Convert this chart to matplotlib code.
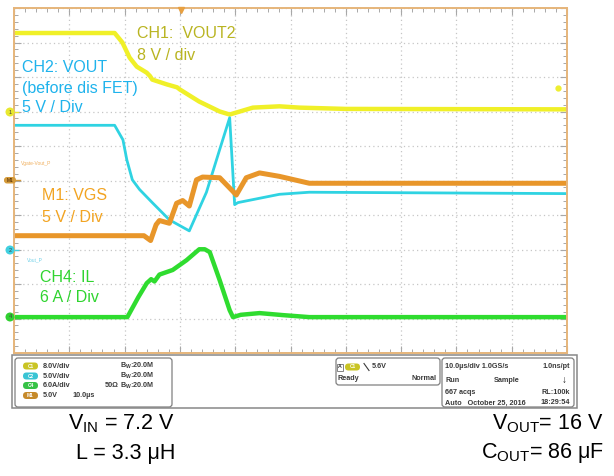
import matplotlib
matplotlib.use("Agg")
from matplotlib import pyplot as plt
from matplotlib.patches import FancyBboxPatch, Rectangle, Circle
from matplotlib.ticker import MultipleLocator

plt.rcParams["font.family"] = ["Liberation Sans", "DejaVu Sans"]
plt.rcParams["mathtext.fontset"] = "custom"
plt.rcParams["mathtext.rm"] = "Liberation Sans"

# time axis (us, relative to trigger), 10 us/div
t_min, t_max = -30, 70

# CH1 VOUT2 (V), 8 V/div
ch1_t = [-30, -11.8, -10.4, -9.1, -7.8, -6.0, -5.4, -5.0, -2.4, -0.5, 0.0, 3.5, 7.2, 9.0, 13.2, 18.0, 21.6, 30.0, 70.0]
ch1_v = [18.2, 18.2, 16.0, 12.5, 10.4, 9.0, 8.2, 7.4, 6.3, 5.6, 5.1, 2.3, 0.0, -0.7, 0.9, 1.2, 0.9, 0.6, 0.5]

# CH2 VOUT before disconnect FET (V), 5 V/div
ch2_t = [-30, -11.8, -10.3, -9.6, -8.6, -7.3, -5.0, -1.9, 1.7, 4.8, 7.2, 9.0, 9.9, 10.5, 18.0, 23.4, 70]
ch2_v = [18.0, 18.0, 15.9, 13.0, 10.1, 8.7, 6.8, 4.3, 2.7, 8.3, 14.5, 19.1, 6.5, 6.8, 8.0, 8.3, 8.1]

# M1 VGS (V), 5 V/div
m1_t = [-30, -6.5, -5.3, -4.3, -3.7, -1.9, -0.6, 0.5, 1.7, 3.0, 4.1, 7.2, 9.5, 10.2, 12.0, 14.4, 18.0, 23.4, 70]
m1_v = [-8.0, -8.0, -8.7, -6.4, -5.8, -6.2, -3.3, -2.9, -3.7, 0.1, 0.5, 0.4, -1.5, -2.1, 0.4, 1.1, 0.6, -0.4, -0.4]

# CH4 IL (A), 6 A/div
il_t = [-30, -9.5, -7.5, -6.0, -5.2, -4.6, -3.7, -1.3, 1.2, 3.5, 4.5, 5.4, 7.2, 9.0, 9.6, 11.0, 14.4, 18.6, 23.4, 70]
il_v = [0, 0, 3.5, 5.9, 6.6, 6.2, 7.4, 8.2, 9.9, 11.8, 11.8, 11.3, 6.4, 1.2, 0.0, 0.4, 0.7, 0.35, 0.0, 0.0]

# (values, volts/div, offset in div, colour, width)
traces = [
    (ch1_t, ch1_v, 8, 2.0, "#f0f028", 3.2),
    (ch2_t, ch2_v, 5, -2.0, "#2fd3e2", 2.0),
    (m1_t, m1_v, 5, 0.0, "#e8962a", 3.6),
    (il_t, il_v, 6, -3.96, "#2fdc2f", 3.2),
]

fig = plt.figure(figsize=(6.14, 4.76), dpi=100)
W, H = 614, 476

# graticule area in pixels
x0, x1, y0, y1 = 14, 567, 8, 353
ax = fig.add_axes([x0 / W, 1 - y1 / H, (x1 - x0) / W, (y1 - y0) / H], zorder=1)
ax.set_xlim(t_min, t_max)
ax.set_ylim(-5, 5)

ax.xaxis.set_major_locator(MultipleLocator(10))
ax.xaxis.set_minor_locator(MultipleLocator(2))
ax.yaxis.set_major_locator(MultipleLocator(1))
ax.yaxis.set_minor_locator(MultipleLocator(0.2))
ax.tick_params(which="both", direction="in", top=True, right=True,
               labelbottom=False, labelleft=False, color="#a8a8a8")
ax.tick_params(which="major", length=5, width=0.8)
ax.tick_params(which="minor", length=3, width=0.7)
ax.set_axisbelow(True)
ax.grid(True, which="major", color="#c6c6c6", linestyle=(0, (1, 2.5)), linewidth=0.9)
for s in ax.spines.values():
    s.set_color("#e6b57a")
    s.set_linewidth(1.4)

for t, v, scale, off, col, lw in traces:
    ax.plot(t, [val / scale + off for val in v], color=col, linewidth=lw,
            solid_joinstyle="round", solid_capstyle="butt")

# overlay in pixel coordinates
ov = fig.add_axes([0, 0, 1, 1], zorder=2)
ov.set_xlim(0, W)
ov.set_ylim(H, 0)
ov.axis("off")

# channel labels
fs = 11.5
ov.text(137, 33, "CH1:  VOUT2", color="#b9b421", fontsize=fs, va="center")
ov.text(137, 55, "8 V / div", color="#b9b421", fontsize=fs, va="center")
ov.text(22, 67, "CH2: VOUT", color="#1fb3ec", fontsize=fs, va="center")
ov.text(22, 88, "(before dis FET)", color="#1fb3ec", fontsize=fs, va="center")
ov.text(22, 108, "5 V / Div", color="#1fb3ec", fontsize=fs, va="center")
ov.text(42, 196, "M1: VGS", color="#f2a422", fontsize=fs, va="center")
ov.text(42, 217, "5 V / Div", color="#f2a422", fontsize=fs, va="center")
ov.text(40, 278, "CH4: IL", color="#2fd42f", fontsize=fs, va="center")
ov.text(40, 297, "6 A / Div", color="#2fd42f", fontsize=fs, va="center")
ov.text(21, 163, "Vgate-Vout_P", color="#f0b060", fontsize=3.5, va="center")
ov.text(27, 260, "Vout_P", color="#70d0e8", fontsize=3.5, va="center")

# ground markers on the left edge
markers = [("1", 112, "#e8e830"), ("2", 250, "#40d0e0"), ("4", 317, "#30d030")]
for lab, yy, col in markers:
    ov.add_patch(Circle((10, yy), 4.5, facecolor=col, edgecolor="none"))
    ov.text(10, yy, lab, fontsize=4, ha="center", va="center", color="#404040")
    ov.plot([15, 18], [yy, yy], color=col, lw=1)
ov.add_patch(FancyBboxPatch((4, 177), 12, 6.5, boxstyle="round,pad=0,rounding_size=3",
                            facecolor="#d49a3a", edgecolor="none"))
ov.text(10, 180.3, "M1", fontsize=3.5, ha="center", va="center", color="#402000")
ov.plot([16, 20], [180, 180], color="#d49a3a", lw=1)
# trigger position and level
ov.plot([181], [10], marker="v", color="#e8a040", markersize=5)
ov.plot([558], [88], marker="o", color="#eeee30", markersize=3.5)

# status panel
ov.add_patch(Rectangle((12, 355), 565, 53, facecolor="white", edgecolor="#888888", lw=1.1))
box = dict(boxstyle="round,pad=0,rounding_size=3", facecolor="white", edgecolor="#808080", lw=0.9)
ov.add_patch(FancyBboxPatch((15, 358), 157, 49, **box))
ov.add_patch(FancyBboxPatch((336, 358), 104, 27, **box))
ov.add_patch(FancyBboxPatch((442, 358), 132, 49, **box))

pfs = 5.2
pc = "#3a3a3a"
badges = [("C1", "#c9c424", 366, "8.0V/div"), ("C2", "#39c4d4", 376, "5.0V/div"),
          ("C4", "#36c246", 385.5, "6.0A/div"), ("M1", "#c68a2a", 395.5, "5.0V")]
for lab, col, yy, txt in badges:
    ov.add_patch(FancyBboxPatch((23, yy - 3.5), 15, 7, boxstyle="round,pad=0,rounding_size=3.5",
                                facecolor=col, edgecolor="none"))
    ov.text(30.5, yy, lab, fontsize=3.4, ha="center", va="center", color="white", weight="bold")
    ov.text(43, yy, txt, fontsize=pfs, va="center", color=pc, weight="bold")
for yy in (366, 376, 385.5):
    ov.text(120, yy, "B$_{\\mathregular{W}}$:20.0M", fontsize=pfs, va="center", color=pc, weight="bold")
ov.text(105, 385.5, "50Ω", fontsize=pfs, va="center", color=pc, weight="bold")
ov.text(72, 395.5, "10.0µs", fontsize=pfs, va="center", color=pc, weight="bold")

ov.add_patch(Rectangle((337, 363.5), 6, 7, facecolor="white", edgecolor="#707070", lw=0.6))
ov.text(340, 367, "A", fontsize=3.8, ha="center", va="center", color=pc, weight="bold")
ov.add_patch(FancyBboxPatch((345, 363.5), 15, 7, boxstyle="round,pad=0,rounding_size=3.5",
                            facecolor="#c9c424", edgecolor="none"))
ov.text(352.5, 367, "C1", fontsize=3.4, ha="center", va="center", color="white", weight="bold")
ov.plot([364, 369], [363.5, 370.5], color=pc, lw=0.8)
ov.text(372, 367, "5.6V", fontsize=pfs, va="center", color=pc, weight="bold")
ov.text(338, 379, "Ready", fontsize=pfs, va="center", color=pc, weight="bold")
ov.text(437, 379, "Normal", fontsize=pfs, va="center", ha="right", color=pc, weight="bold")

ov.text(445, 367, "10.0µs/div 1.0GS/s", fontsize=pfs, va="center", color=pc, weight="bold")
ov.text(570, 367, "1.0ns/pt", fontsize=pfs, va="center", ha="right", color=pc, weight="bold")
ov.text(445, 380, "Run", fontsize=pfs, va="center", color=pc, weight="bold")
ov.text(494, 380, "Sample", fontsize=pfs, va="center", color=pc, weight="bold")
ov.text(564, 380, "↓", fontsize=7, va="center", ha="center", color="#202020", weight="bold")
ov.text(445, 392, "667 acqs", fontsize=pfs, va="center", color=pc, weight="bold")
ov.text(570, 392, "RL:100k", fontsize=pfs, va="center", ha="right", color=pc, weight="bold")
ov.text(445, 403, "Auto   October 25, 2016", fontsize=pfs, va="center", color=pc, weight="bold")
ov.text(570, 403, "18:29:54", fontsize=pfs, va="center", ha="right", color=pc, weight="bold")

# test conditions
bfs = 15.5
ov.text(175, 424, "V$_{\\mathregular{IN}}$ = 7.2 V", fontsize=bfs, ha="right", va="center")
ov.text(175, 453, "L = 3.3 μH", fontsize=bfs, ha="right", va="center")
ov.text(604, 424, "V$_{\\mathregular{OUT}}$= 16 V", fontsize=bfs, ha="right", va="center")
ov.text(604, 453, "C$_{\\mathregular{OUT}}$= 86 μF", fontsize=bfs, ha="right", va="center")

plt.savefig("out.png", dpi=100)
plt.close()
